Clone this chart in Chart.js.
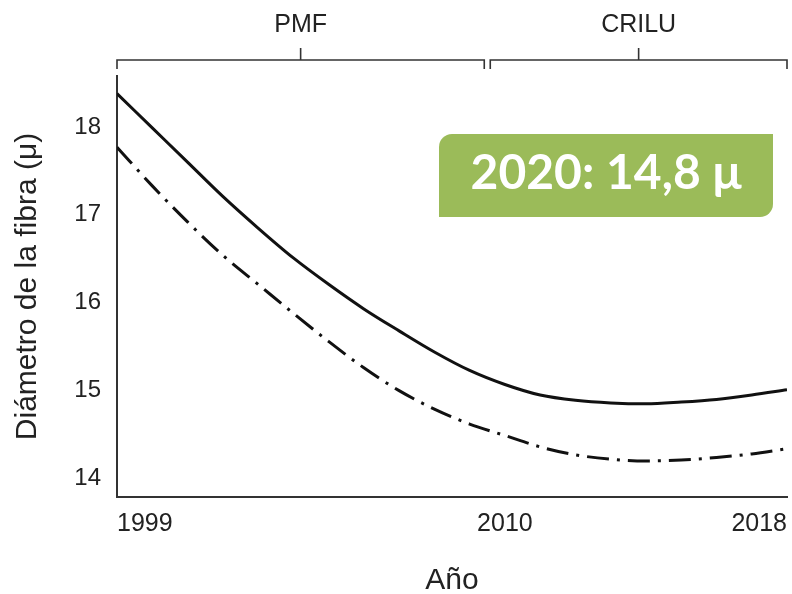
<!DOCTYPE html>
<html>
<head>
<meta charset="utf-8">
<script src="https://cdn.jsdelivr.net/npm/chart.js@4"></script>
<style>
  html, body { margin: 0; padding: 0; background: #ffffff; }
  #wrap { width: 792px; height: 594px; position: relative; }
</style>
</head>
<body>
<div id="wrap"><canvas id="c" width="792" height="594"></canvas></div>
<script>
// ---- data ----
const years = [1999, 2000, 2001, 2002, 2003, 2004, 2005, 2006, 2007, 2008, 2009,
               2010, 2011, 2012, 2013, 2014, 2015, 2016, 2017, 2018];
const solidSeries = [18.38, 17.99, 17.60, 17.21, 16.85, 16.51, 16.21, 15.93, 15.68, 15.44, 15.23,
                     15.07, 14.95, 14.89, 14.86, 14.85, 14.87, 14.90, 14.95, 15.01];
const dashDotSeries = [17.77, 17.33, 16.92, 16.54, 16.21, 15.88, 15.56, 15.26, 15.00, 14.79, 14.62,
                       14.49, 14.36, 14.27, 14.22, 14.20, 14.21, 14.24, 14.28, 14.34];
const yTickValues = [14, 15, 16, 17, 18];
const xTickValues = [1999, 2010, 2018];
const periodLabels = ['PMF', 'CRILU'];
const periodBounds = [1999, 2009.5, 2018];
const highlightText = '2020: 14,8 μ';
const xTitle = 'Año';
const yTitle = 'Diámetro de la fibra (μ)';

const FONT = "'Liberation Sans', Arial, sans-serif";
const INK = '#222222';

const toPoints = arr => arr.map((v, i) => ({ x: years[i], y: v }));

// bracket + label plugin for periods
const periodPlugin = {
  id: 'periods',
  afterDraw(chart) {
    const ctx = chart.ctx;
    const xs = chart.scales.x;
    const lineY = 60;
    const hook = 9;
    const up = 12;
    const gap = 3;
    ctx.save();
    ctx.strokeStyle = '#333';
    ctx.lineWidth = 1.6;
    ctx.fillStyle = INK;
    ctx.font = "25px " + FONT;
    ctx.textAlign = 'center';
    ctx.textBaseline = 'middle';
    for (let i = 0; i < periodLabels.length; i++) {
      let x0 = xs.getPixelForValue(periodBounds[i]);
      let x1 = xs.getPixelForValue(periodBounds[i + 1]);
      if (i > 0) x0 += gap;
      if (i < periodLabels.length - 1) x1 -= gap;
      ctx.beginPath();
      ctx.moveTo(x0, lineY + hook);
      ctx.lineTo(x0, lineY);
      ctx.lineTo(x1, lineY);
      ctx.lineTo(x1, lineY + hook);
      ctx.stroke();
      const xm = (x0 + x1) / 2;
      ctx.beginPath();
      ctx.moveTo(xm, lineY);
      ctx.lineTo(xm, lineY - up);
      ctx.stroke();
      ctx.fillText(periodLabels[i], xm, 25);
    }
    ctx.restore();
  }
};

// green highlight box
const highlightPlugin = {
  id: 'highlight',
  afterDraw(chart) {
    const ctx = chart.ctx;
    const area = chart.chartArea;
    const w = 334, h = 83;
    const x = area.right - 14 - w;
    const y = 134;
    ctx.save();
    ctx.fillStyle = '#9BBB59';
    ctx.beginPath();
    if (ctx.roundRect) ctx.roundRect(x, y, w, h, [13, 0, 13, 0]);
    else ctx.rect(x, y, w, h);
    ctx.fill();
    ctx.fillStyle = '#ffffff';
    ctx.font = "bold 48px Lato, 'Open Sans', sans-serif";
    ctx.textAlign = 'center';
    ctx.textBaseline = 'middle';
    ctx.fillText(highlightText, x + w / 2, y + h / 2 - 2);
    ctx.restore();
  }
};

new Chart(document.getElementById('c'), {
  type: 'line',
  data: {
    datasets: [
      {
        label: 'Serie 1',
        data: toPoints(solidSeries),
        borderColor: '#111111',
        borderWidth: 3,
        pointRadius: 0,
        cubicInterpolationMode: 'monotone',
        fill: false
      },
      {
        label: 'Serie 2',
        data: toPoints(dashDotSeries),
        borderColor: '#111111',
        borderWidth: 3,
        borderDash: [22, 8, 3, 8],
        pointRadius: 0,
        cubicInterpolationMode: 'monotone',
        fill: false
      }
    ]
  },
  options: {
    responsive: false,
    animation: false,
    devicePixelRatio: 1,
    layout: { padding: { top: 76, right: 5, left: 0, bottom: 0 } },
    plugins: {
      legend: { display: false },
      tooltip: { enabled: false }
    },
    scales: {
      x: {
        type: 'linear',
        min: 1999,
        max: 2018,
        grid: { display: false, drawTicks: false },
        border: { display: true, color: '#333', width: 2 },
        afterBuildTicks: s => { s.ticks = xTickValues.map(v => ({ value: v })); },
        afterFit: s => { s.height = 97; s.paddingLeft = 0; s.paddingRight = 0; },
        ticks: {
          align: 'inner',
          padding: 12,
          color: INK,
          font: { family: FONT, size: 25 },
          maxRotation: 0,
          callback: v => String(v)
        },
        title: {
          display: true,
          text: xTitle,
          color: INK,
          font: { family: FONT, size: 30 },
          padding: { top: 0, bottom: -5 }
        }
      },
      y: {
        type: 'linear',
        min: 13.79,
        max: 18.58,
        grid: { display: false, drawTicks: false },
        border: { display: true, color: '#333', width: 2 },
        afterBuildTicks: s => { s.ticks = yTickValues.map(v => ({ value: v })); },
        afterFit: s => { s.width = 117; },
        ticks: {
          padding: 16,
          color: INK,
          font: { family: FONT, size: 24 },
          callback: v => String(v)
        },
        title: {
          display: true,
          text: yTitle,
          color: INK,
          font: { family: FONT, size: 30 },
          padding: { top: 10, bottom: 0 }
        }
      }
    }
  },
  plugins: [periodPlugin, highlightPlugin]
});
</script>
</body>
</html>
